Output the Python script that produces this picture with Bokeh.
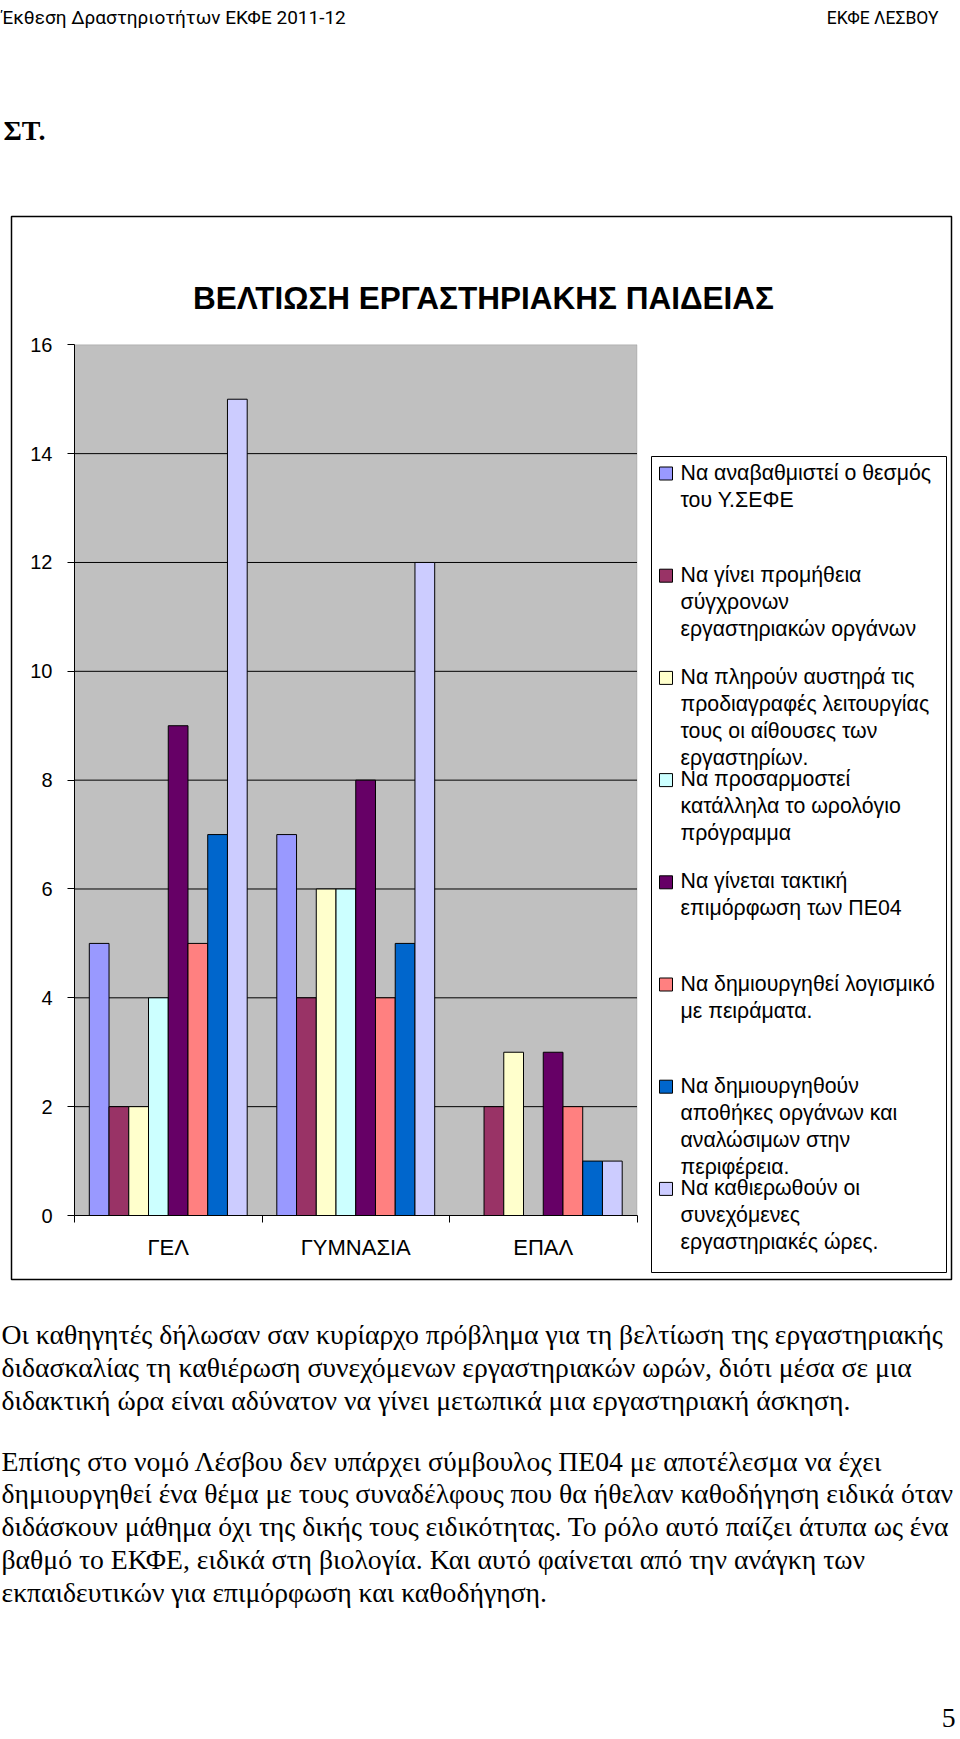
from bokeh.plotting import figure
from bokeh.models import Range1d, FixedTicker, Label, BoxAnnotation, LinearAxis
from bokeh.embed import file_html
from bokeh.resources import INLINE

# ---------------- data ----------------
categories = ["ΓΕΛ", "ΓΥΜΝΑΣΙΑ", "ΕΠΑΛ"]
series_names = [
    "Να αναβαθμιστεί ο θεσμός\nτου Υ.ΣΕΦΕ",
    "Να γίνει προμήθεια\nσύγχρονων\nεργαστηριακών οργάνων",
    "Να πληρούν αυστηρά τις\nπροδιαγραφές λειτουργίας\nτους οι αίθουσες των\nεργαστηρίων.",
    "Να προσαρμοστεί\nκατάλληλα το ωρολόγιο\nπρόγραμμα",
    "Να γίνεται τακτική\nεπιμόρφωση των ΠΕ04",
    "Να δημιουργηθεί λογισμικό\nμε πειράματα.",
    "Να δημιουργηθούν\nαποθήκες οργάνων και\nαναλώσιμων στην\nπεριφέρεια.",
    "Να καθιερωθούν οι\nσυνεχόμενες\nεργαστηριακές ώρες.",
]
series_colors = ["#9999FF", "#993366", "#FFFFCC", "#CCFFFF",
                 "#660066", "#FF8080", "#0066CC", "#CCCCFF"]
upgrade_ysefe = [5, 7, 0]
equipment = [2, 4, 2]
specs = [2, 6, 3]
timetable = [4, 6, 0]
training = [9, 8, 3]
software = [5, 4, 2]
storage = [7, 5, 1]
continuous_hours = [15, 12, 1]
series_values = [upgrade_ysefe, equipment, specs, timetable,
                 training, software, storage, continuous_hours]
y_ticks = [0, 2, 4, 6, 8, 10, 12, 14, 16]

chart_title = "ΒΕΛΤΙΩΣΗ ΕΡΓΑΣΤΗΡΙΑΚΗΣ ΠΑΙΔΕΙΑΣ"
header_left = "Έκθεση Δραστηριοτήτων ΕΚΦΕ 2011-12"
header_right = "ΕΚΦΕ ΛΕΣΒΟΥ"
section = "ΣΤ."
paragraph1 = [
    "Οι καθηγητές δήλωσαν σαν κυρίαρχο πρόβλημα για τη βελτίωση της εργαστηριακής",
    "διδασκαλίας τη καθιέρωση συνεχόμενων εργαστηριακών ωρών, διότι μέσα σε μια",
    "διδακτική ώρα είναι αδύνατον να γίνει μετωπικά μια εργαστηριακή άσκηση.",
]
paragraph2 = [
    "Επίσης στο νομό Λέσβου δεν υπάρχει σύμβουλος ΠΕ04 με αποτέλεσμα να έχει",
    "δημιουργηθεί ένα θέμα με τους συναδέλφους που θα ήθελαν καθοδήγηση ειδικά όταν",
    "διδάσκουν μάθημα όχι της δικής τους ειδικότητας. Το ρόλο αυτό παίζει άτυπα ως  ένα",
    "βαθμό το ΕΚΦΕ, ειδικά στη βιολογία. Και αυτό φαίνεται από την ανάγκη των",
    "εκπαιδευτικών για επιμόρφωση και καθοδήγηση.",
]
page_number = "5"

# ---------------- layout (page px) ----------------
W, H = 960, 1737
PL, PR, PT, PB = 74, 636.5, 344.3, 1215   # plot-area edges

SANS = "Liberation Sans"
SERIF = "Liberation Serif"

n_cat = len(categories)
y_max = y_ticks[-1]
ux = (PR - PL) / n_cat
uy = (PB - PT) / y_max

p = figure(width=W, height=H, output_backend="svg", toolbar_location=None, tools="",
           x_range=Range1d(0, W), y_range=Range1d(H, 0),
           x_axis_type=None, y_axis_type=None,
           min_border=0, min_border_left=0, min_border_right=0,
           min_border_top=0, min_border_bottom=0,
           background_fill_color="white", border_fill_color="white",
           outline_line_color=None)
p.extra_x_ranges = {"cx": Range1d(-PL / ux, n_cat + (W - PR) / ux)}
p.extra_y_ranges = {"cy": Range1d(-(H - PB) / uy, y_max + PT / uy)}

# plot area background
p.add_layout(BoxAnnotation(left=0, right=n_cat, bottom=0, top=y_max,
                           x_range_name="cx", y_range_name="cy",
                           fill_color="#C0C0C0", fill_alpha=1,
                           line_color="#808080", line_width=1, level="underlay"))

# horizontal grid lines
inner = y_ticks[1:-1]
p.segment(x0=[0] * len(inner), x1=[n_cat] * len(inner), y0=inner, y1=inner,
          x_range_name="cx", y_range_name="cy", line_color="black", line_width=1)

# bars
n_series = len(series_values)
bw = 1.0 / (n_series + 1.5)
for s, (vals, col) in enumerate(zip(series_values, series_colors)):
    xs = [i + 0.5 + (s - (n_series - 1) / 2) * bw for i in range(n_cat)]
    p.vbar(x=xs, top=vals, width=bw, x_range_name="cx", y_range_name="cy",
           fill_color=col, line_color="black", line_width=1)

# axes drawn at fixed locations of the chart ranges
xa = LinearAxis(x_range_name="cx", y_range_name="cy", fixed_location=0,
                bounds=(0, n_cat))
xa.ticker = FixedTicker(ticks=[i + 0.5 for i in range(n_cat)],
                        minor_ticks=list(range(n_cat + 1)))
xa.major_label_overrides = {i + 0.5: c for i, c in enumerate(categories)}
xa.major_tick_out = 0
xa.major_tick_in = 0
xa.minor_tick_out = 7
xa.minor_tick_in = 0
xa.minor_tick_line_color = "black"
xa.axis_line_color = "black"
xa.major_label_standoff = 12
xa.major_label_text_font = SANS
xa.major_label_text_font_size = "22px"
xa.major_label_text_color = "black"
p.add_layout(xa, "below")

ya = LinearAxis(x_range_name="cx", y_range_name="cy", fixed_location=0,
                bounds=(0, y_max))
ya.ticker = FixedTicker(ticks=y_ticks, minor_ticks=[])
ya.major_tick_out = 7
ya.major_tick_in = 0
ya.major_tick_line_color = "black"
ya.minor_tick_line_color = None
ya.axis_line_color = "black"
ya.major_label_standoff = 15
ya.major_label_text_font = SANS
ya.major_label_text_font_size = "20px"
ya.major_label_text_color = "black"
p.add_layout(ya, "left")


def txt(x, y, s, size, font, style="normal", align="left"):
    p.add_layout(Label(x=x, y=y, text=s,
                       text_font=font, text_font_size=size, text_font_style=style,
                       text_align=align, text_baseline="middle", text_color="black"))


def box(l, r, t, b, fill=None, lw=1):
    p.add_layout(BoxAnnotation(left=l, right=r, top=t, bottom=b,
                               fill_color=fill if fill else "white",
                               fill_alpha=1 if fill else 0,
                               line_color="black", line_width=lw, line_alpha=1))


# chart outer box
box(11, 951, 216, 1279, lw=1.5)

# header & section
txt(1, 17, header_left, "19px", "Roboto")
txt(938, 17, header_right, "17.5px", "Roboto", align="right")
txt(3, 130, section, "28px", SERIF, style="bold")

# chart title
txt(483, 297, chart_title, "31.5px", SANS, style="bold", align="center")

# legend
box(651, 946, 456, 1272, fill="white", lw=1)
pitch = 102.2
for k, (name, col) in enumerate(zip(series_names, series_colors)):
    cy = 473 + k * pitch
    box(659, 672, cy - 6.5, cy + 6.5, fill=col, lw=1)
    for j, line in enumerate(name.split("\n")):
        txt(680, cy - 1 + j * 27, line, "21.3px", SANS)

# paragraphs
for j, line in enumerate(paragraph1):
    txt(1, 1334 + j * 33.2, line, "27.7px", SERIF)
for j, line in enumerate(paragraph2):
    txt(1, 1460.5 + j * 32.8, line, "27.7px", SERIF)

txt(955, 1717, page_number, "27.7px", SERIF, align="right")

open("out.html", "w").write(file_html(p, INLINE))
